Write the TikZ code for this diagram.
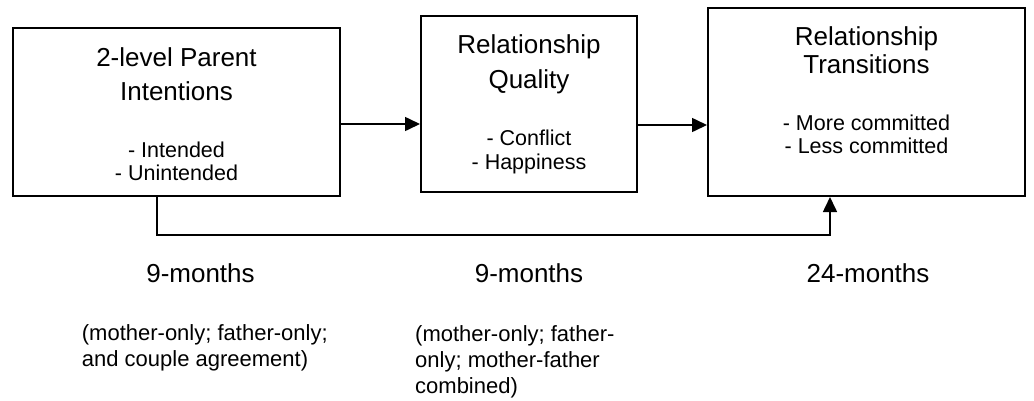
\documentclass[tikz,border=0pt]{standalone}
\usepackage{fontspec}
\setsansfont{Liberation Sans}
\usetikzlibrary{positioning, arrows.meta}
\definecolor{ink}{HTML}{000000}
\newcommand{\rtsize}[2]{\fontsize{#1}{#2}\selectfont}
\tikzset{
  every node/.style = {font=\sffamily, text=ink, inner sep=0pt},
  rtbox/.style   = {draw=ink, line width=2pt, fill=white},
  rttitle/.style = {font=\sffamily\rtsize{26}{34.3}, align=center, anchor=north},
  rtitems/.style = {font=\sffamily\rtsize{21.5}{23.5}, align=center, anchor=north},
  rtwave/.style  = {font=\sffamily\rtsize{26}{30}, anchor=base},
  rtnote/.style  = {font=\sffamily\rtsize{22}{26}, align=left, anchor=north west},
  rtgo/.style    = {-{Triangle[length=15pt,width=14pt]}, draw=ink, line width=1.6pt},
}

\begin{document}
\begin{tikzpicture}[x=1pt, y=-1pt]
\useasboundingbox (0,0) rectangle (1034,400);

% the three measures
\foreach \i/\x/\y/\w/\h in {%
  1/176.5/112/327/168,
  2/529/104/216/176,
  3/866.5/102/317/188%
}{
  \node[rtbox, minimum width=\w pt, minimum height=\h pt] (B\i) at (\x,\y) {};
}

\node[rttitle] (T1) at (176.5,47.1) {2-level Parent\\Intentions};
\node[rtitems] (L1) at (176.5,141.3) {- Intended\\- Unintended};

\node[rttitle] (T2) at (529,34.4) {Relationship\\[0.7pt]Quality};
\node[rtitems] (L2) at (529,130.2) {- Conflict\\- Happiness};

\node[rttitle] (T3) at (866.5,26.4) {Relationship\\[-6pt]Transitions};
\node[rtitems] (L3) at (866.5,114.6) {- More committed\\- Less committed};

% paths
\draw[rtgo] ([yshift=-12pt]B1.east) -- ([yshift=-20pt]B2.west);
\draw[rtgo] ([yshift=-21pt]B2.east) -- ([yshift=-23pt]B3.west);
\draw[rtgo] ([xshift=-19.5pt]B1.south) -- ++(0,38) -| ([xshift=-36.5pt]B3.south);

% waves and reporters
\node[rtwave] (W1) at (200.5,282) {9-months};
\node[rtwave] (W2) at (529,282) {9-months};
\node[rtwave] (W3) at (868,282) {24-months};

\node[rtnote] (N1) at (81.7,324) {(mother-only; father-only;\\and couple agreement)};
\node[rtnote] (N2) at (415,325) {(mother-only; father-\\only; mother-father\\combined)};
\end{tikzpicture}
\end{document}
